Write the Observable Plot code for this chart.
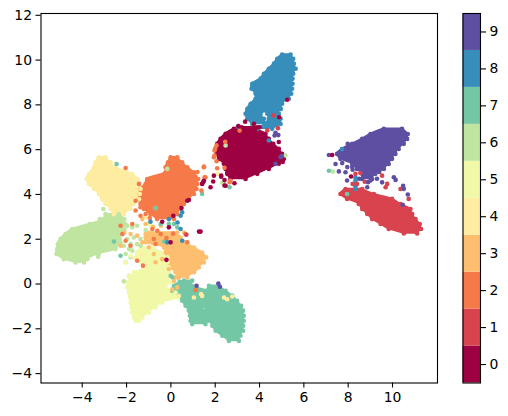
<!DOCTYPE html>
<html><head><meta charset="utf-8">
<script src="https://cdn.jsdelivr.net/npm/d3@7"></script>
<script src="https://cdn.jsdelivr.net/npm/@observablehq/plot@0.6"></script>
<style>html,body{margin:0;padding:0;background:#fff}#wrap{position:relative;width:508px;height:416px;overflow:hidden}#wrap>svg{position:absolute;top:0}</style>
</head><body><div id="wrap"></div>
<script>
const digits=[0,1,2,3,4,5,6,7,8,9];
const colors=["#9e0142","#d8434e","#f67a49","#fdbf6f","#feeda1","#f1f9a9","#bfe5a0","#74c7a5","#378ebb","#5e4fa2"];
const xTicks=[-4,-2,0,2,4,6,8,10];
const yTicks=[-4,-2,0,2,4,6,8,10,12];

// Dense cores: [y, left x, right x]
const core6=[[3.12,-2.95,-2.35],[2.90,-3.02,-2.10],[2.68,-3.65,-2.05],[2.45,-4.45,-2.10],[2.23,-4.75,-2.25],[2.01,-4.98,-2.30],[1.78,-5.10,-2.40],[1.56,-5.13,-2.50],[1.34,-5.16,-3.25],[1.11,-4.83,-3.77],[0.96,-4.30,-3.92]];
const core4=[[5.66,-3.25,-2.95],[5.43,-3.40,-2.72],[5.21,-3.47,-2.50],[4.91,-3.70,-1.74],[4.69,-3.80,-1.49],[4.47,-3.70,-1.40],[4.24,-3.47,-1.37],[4.02,-3.25,-1.40],[3.79,-3.10,-1.44],[3.57,-2.95,-1.67],[3.35,-2.72,-1.82],[3.12,-2.57,-2.12]];
const core5=[[1.63,-1.30,-0.80],[1.41,-1.52,-0.46],[1.19,-1.55,-0.16],[0.96,-1.29,-0.16],[0.74,-1.14,-0.09],[0.52,-1.52,-0.09],[0.29,-1.82,-0.16],[0.07,-1.94,-0.01],[-0.15,-1.97,-0.24],[-0.38,-1.89,0.21],[-0.60,-1.85,0.29],[-0.83,-1.82,-0.39],[-1.05,-1.77,-0.69],[-1.27,-1.74,-0.99],[-1.50,-1.67,-1.29],[-1.64,-1.59,-1.44]];
const core7a=[[0.15,0.59,0.96],[-0.08,0.14,0.96],[-0.30,0.06,1.56],[-0.52,0.36,1.56],[-0.75,0.51,1.56],[-0.97,0.66,1.56],[-1.19,0.81,1.41],[-1.42,0.86,1.64],[-1.64,0.89,1.64],[-1.79,0.96,1.56]];
const core7b=[[-0.08,1.72,2.17],[-0.30,1.64,2.47],[-0.52,1.57,2.77],[-0.75,1.57,2.99],[-0.97,1.57,3.17],[-1.19,1.57,3.26],[-1.42,1.61,3.29],[-1.64,1.76,3.29],[-1.86,1.87,3.26],[-2.09,2.02,3.26],[-2.31,2.32,3.14],[-2.54,2.62,3.07]];
const core3=[[2.30,-1.07,0.29],[2.08,-1.14,0.44],[1.86,-1.14,0.66],[1.63,-0.31,1.04],[1.41,-0.24,1.41],[1.19,-0.16,1.59],[0.96,-0.13,1.49],[0.74,-0.01,1.26],[0.52,0.21,1.04],[0.29,0.36,0.74]];
const core2=[[5.66,-0.01,0.29],[5.43,-0.13,0.51],[5.21,-0.24,0.74],[4.99,-0.24,1.04],[4.69,-1.07,1.23],[4.47,-1.14,1.19],[4.24,-1.37,1.16],[4.02,-1.40,1.04],[3.79,-1.44,0.81],[3.57,-1.37,0.59],[3.35,-1.22,0.44],[3.12,-0.92,0.29],[2.90,-0.62,0.14]];
const core8a=[[10.25,5.02,5.40],[10.06,4.80,5.52],[9.84,4.65,5.55],[9.61,4.42,5.63],[9.39,4.20,5.52],[9.17,4.05,5.49],[8.94,3.67,5.49],[8.72,3.64,5.47],[8.50,3.82,5.43],[8.27,3.82,5.32],[8.05,3.60,5.02],[7.82,3.45,4.95],[7.60,3.37,4.05],[7.38,3.45,4.20],[7.15,3.67,4.27]];
const core8b=[[7.82,4.30,4.95],[7.60,4.35,4.87],[7.38,4.42,4.95],[7.15,4.27,4.95],[6.93,3.90,4.57]];
const core1=[[4.24,7.88,8.63],[4.02,7.65,9.16],[3.80,7.95,9.98],[3.57,8.48,10.36],[3.35,8.63,10.81],[3.13,8.86,10.89],[2.90,9.08,11.04],[2.68,9.46,11.23],[2.46,9.83,11.29],[2.26,10.51,11.11]];
const core9=[[6.93,9.61,10.43],[6.70,9.01,10.69],[6.48,8.63,10.66],[6.26,8.18,10.51],[6.03,7.73,10.28],[5.81,7.50,10.13],[5.59,7.65,9.98],[5.36,8.18,9.83],[5.14,8.40,9.61],[4.92,8.63,9.23],[4.69,8.63,9.08]];
const core0=[[7.00,3.20,3.90],[6.93,2.84,3.82],[6.71,2.47,4.27],[6.48,2.24,4.42],[6.26,2.09,4.62],[6.04,2.02,4.87],[5.81,2.06,5.02],[5.59,2.17,5.10],[5.37,2.39,4.87],[5.14,2.47,4.42],[4.92,2.54,3.90],[4.69,2.69,3.37]];

// Scattered points: [x, y]
const pts6=[[-3.05,3.35],[-3.20,2.90],[-3.28,1.22],[-2.12,0.12],[-1.97,2.60],[-1.74,2.53],[-1.52,2.60],[-1.14,2.41],[-1.97,2.01],[-1.67,2.08],[-1.37,2.01],[-2.12,1.71],[-1.82,1.78],[-2.49,1.64],[-1.89,1.56],[-1.52,1.78],[-2.27,1.85],[-1.37,1.71],[-2.04,1.34],[-2.04,0.97],[-1.82,1.19],[-1.89,0.37],[-1.74,1.49],[-0.69,3.39],[-0.16,5.14],[2.39,4.54],[2.47,6.19],[5.17,5.74],[7.31,5.02],[2.32,4.52]];
const pts5=[[-2.04,0.96],[-1.89,0.37],[-1.67,0.52],[-1.82,1.26],[-1.14,2.98],[-0.92,2.62]];
const pts4=[[-1.14,3.0],[-0.99,2.75],[1.04,-0.60],[1.41,-0.53],[2.54,-0.68],[2.77,-0.56],[0.36,-0.53],[2.12,4.92],[-1.60,1.15],[-1.30,1.30],[1.36,-0.45],[2.40,-0.60]];
const pts3=[[-1.14,2.68],[-1.29,2.90],[0.29,0.29],[0.74,0.44],[1.11,0.66],[0.14,0.14],[0.29,-0.15],[-1.82,2.23],[-1.52,2.16],[-1.14,2.23],[-1.29,1.86],[-0.99,1.64],[-0.54,1.93],[-0.69,0.97],[-0.39,1.11],[-2.27,1.71],[-0.77,1.34],[-0.09,0.67],[0.29,0.59],[0.21,0.30],[-0.80,2.55],[-0.45,2.60],[0.06,-0.25],[-2.10,2.30],[0.60,2.30]];
const pts7=[[-2.27,1.26],[-2.57,1.90],[-2.45,5.36],[1.41,4.02],[-0.46,2.68],[-0.09,2.68],[0.14,2.68],[0.29,2.53],[-0.01,0.37],[2.65,4.32],[7.13,5.06],[-0.69,3.39],[-0.30,1.90],[0.06,0.30],[0.40,0.10],[7.95,4.02]];
const pts2=[[-2.04,5.18],[-1.44,4.47],[1.49,5.21],[2.09,5.17],[1.56,4.76],[1.38,4.17],[-1.59,3.72],[-1.37,3.43],[-1.59,3.28],[-2.27,2.60],[-2.19,2.23],[-2.04,1.93],[-1.82,1.71],[-0.84,2.46],[-0.61,2.38],[-0.77,2.01],[-0.46,2.23],[-0.69,1.79],[-1.26,0.82],[-1.52,1.04],[0.74,1.86],[0.66,2.23],[-1.74,2.68],[-1.14,3.13],[-1.37,3.05],[1.11,-0.27],[2.69,4.61],[2.06,6.19],[1.97,5.96],[1.94,5.66],[2.06,5.48],[1.97,5.74],[2.42,5.19],[1.52,4.77],[1.49,5.25],[0.10,2.25],[-0.20,2.05],[-0.95,2.95],[1.05,4.60],[1.20,5.00],[2.00,6.05],[2.45,6.35],[3.10,6.85],[2.65,4.55]];
const pts8=[[0.44,3.05],[0.51,3.20],[0.44,2.46],[-0.16,1.86],[-0.09,2.90],[-0.92,2.78],[0.51,1.93],[3.02,7.03],[8.33,4.76],[8.33,4.62],[8.33,4.47],[8.33,4.36],[8.33,4.24],[7.72,6.02],[4.42,6.41],[0.30,2.75]];
const pts1=[[9.53,4.84],[8.55,4.96],[8.33,4.92],[9.76,4.47],[9.69,4.32],[10.36,4.24],[10.73,3.80],[8.75,4.57],[8.20,4.47],[8.40,4.47],[4.62,7.53],[4.83,6.96],[4.35,6.86],[0.70,2.20]];
const pts9=[[7.98,6.26],[7.13,5.76],[7.43,5.36],[7.58,5.03],[7.88,4.99],[7.95,4.62],[10.06,4.77],[10.14,4.65],[9.53,4.54],[8.86,4.32],[10.48,4.39],[10.51,4.25],[10.69,4.00],[10.46,3.54],[9.01,4.62],[9.46,5.14],[9.13,5.14],[4.68,6.63],[4.72,6.75],[4.85,6.65],[4.95,5.66],[5.00,5.72],[1.16,-0.08],[2.21,-0.12],[2.14,0.02],[4.72,5.37],[8.18,5.22],[8.20,5.10],[8.50,4.70],[9.30,4.70],[9.40,5.00],[8.90,4.55],[7.96,5.22],[7.73,5.40]];
const pts0=[[-0.39,2.78],[0.11,3.05],[0.48,3.39],[0.81,3.75],[0.74,3.72],[1.27,2.34],[-0.20,1.08],[-0.09,2.53],[-0.01,1.86],[1.49,4.61],[1.41,4.47],[1.45,4.54],[1.94,4.84],[1.91,4.58],[1.79,4.32],[2.27,4.79],[2.42,4.64],[2.47,4.39],[2.87,4.50],[8.13,4.80],[7.28,5.76],[2.27,4.84],[2.42,4.40],[1.34,2.34],[4.89,7.45],[5.25,8.23],[4.87,6.34],[3.35,7.25],[3.05,7.05],[4.00,7.00],[3.75,7.15],[5.05,5.45]];

const lobes=[[6,core6],[4,core4],[5,core5],[7,core7a],[7,core7b],[3,core3],[2,core2],[8,core8a],[8,core8b],[1,core1],[9,core9],[0,core0]];
const rows=lobes.flatMap(([c,r],i)=>r.map(([y,x1,x2])=>({lobe:i,c,y,x1,x2})));
const strays=[[6,pts6],[5,pts5],[4,pts4],[3,pts3],[7,pts7],[2,pts2],[8,pts8],[1,pts1],[9,pts9],[0,pts0]]
  .flatMap(([c,p])=>p.map(([x,y])=>({c,x,y})));
const tickStyle={fontFamily:"'DejaVu Sans',sans-serif",fontSize:"13.9px",color:"#000",background:"transparent"};
const colorOpt={type:"ordinal",domain:digits,range:colors};
const R=2.3;

const main=Plot.plot({
  width:445,height:416,marginLeft:40.5,marginRight:8,marginTop:13,marginBottom:33.5,
  style:tickStyle,
  x:{domain:[-5.86,12.03],ticks:xTicks,label:null},
  y:{domain:[-4.42,12.08],ticks:yTicks,label:null},
  color:colorOpt,
  marks:[
    Plot.areaX(rows,{x1:"x1",x2:"x2",y:"y",z:"lobe",fill:"c",stroke:"c",strokeWidth:1.5,strokeLinejoin:"round",curve:"catmull-rom"}),
    Plot.dot(rows,{x:"x1",y:"y",r:R,fill:"c"}),
    Plot.dot(rows,{x:"x2",y:"y",r:R,fill:"c"}),
    Plot.dot(strays,{x:"x",y:"y",r:R,fill:"c"}),
    Plot.frame({stroke:"#000",strokeWidth:1.1}),
    Plot.axisX({ticks:xTicks,tickSize:5,tickPadding:4,strokeWidth:1.1,label:null,fontSize:13.9,fill:"#000",stroke:"#000"}),
    Plot.axisY({ticks:yTicks,tickSize:5,tickPadding:4,strokeWidth:1.1,label:null,fontSize:13.9,fill:"#000",stroke:"#000"})
  ]
});
main.style.left="0";

const bar=Plot.plot({
  width:63,height:416,marginLeft:22.5,marginRight:23,marginTop:13,marginBottom:33.5,
  style:tickStyle,
  x:{domain:[0,1],axis:null},
  y:{domain:[-0.5,9.5],ticks:digits,label:null,axis:null},
  color:colorOpt,
  marks:[
    Plot.rect(digits,{x1:0,x2:1,y1:d=>d-0.5,y2:d=>d+0.5,fill:d=>d}),
    Plot.frame({stroke:"#000",strokeWidth:1.1}),
    Plot.axisY({anchor:"right",ticks:digits,tickSize:5,tickPadding:4,strokeWidth:1.1,label:null,fontSize:13.9,fill:"#000",stroke:"#000",tickFormat:d=>String(d)})
  ]
});
bar.style.left="440px";
document.getElementById("wrap").append(main,bar);
</script></body></html>
